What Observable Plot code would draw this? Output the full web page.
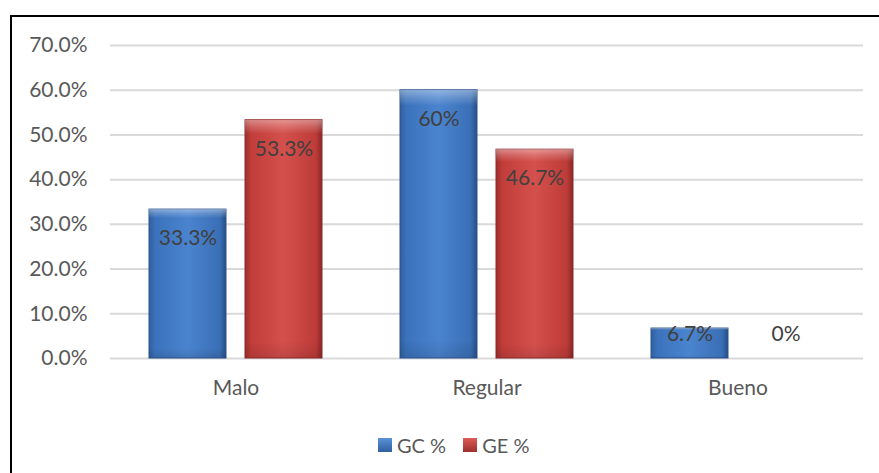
<!DOCTYPE html>
<html>
<head>
<meta charset="utf-8">
<script src="https://cdn.jsdelivr.net/npm/d3@7"></script>
<script src="https://cdn.jsdelivr.net/npm/@observablehq/plot@0.6"></script>
<style>
  html, body { margin: 0; padding: 0; background: #fff; overflow: hidden; width: 879px; height: 473px; }
  body { font-family: Lato, "Open Sans", sans-serif; }
  #frame { position: absolute; left: 10px; top: 15px; width: 900px; height: 500px; border: 2px solid #000; box-sizing: border-box; }
  #chart { position: absolute; left: 0; top: 0; }
  #legend { position: absolute; left: 378px; top: 433px; display: flex; align-items: center; font-size: 20px; color: #595959; }
  #legend .item { display: flex; align-items: center; margin-right: 17px; }
  #legend .sw { width: 14px; height: 14px; margin-right: 5px; }
</style>
</head>
<body>
<div id="frame"></div>
<div id="chart"></div>
<div id="legend"></div>
<script>
// Ratings per group, in percent
const categories = ["Malo", "Regular", "Bueno"];
const series = ["GC %", "GE %"];
const gcValues = [33.3, 60, 6.7];
const geValues = [53.3, 46.7, 0];
const yTicks = [0, 10, 20, 30, 40, 50, 60, 70];

const rows = [];
categories.forEach((c, i) => {
  rows.push({cat: c, s: series[0], v: gcValues[i]});
  rows.push({cat: c, s: series[1], v: geValues[i]});
});

const fmt = v => `${v}%`;
const label = {fontSize: 21, fill: "#404040", textAnchor: "middle"};

const chart = Plot.plot({
  width: 879,
  height: 408,
  marginLeft: 110,
  marginRight: 16,
  marginTop: 45,
  marginBottom: 50,
  style: {fontFamily: "Lato, 'Open Sans', sans-serif", fontSize: "21px", color: "#595959", background: "transparent"},
  fx: {domain: categories, paddingInner: 0, paddingOuter: 0, label: null, tickSize: 0, tickPadding: 22},
  x: {domain: series, paddingInner: 0.196, paddingOuter: 0.392, axis: null},
  y: {domain: [0, 70], ticks: yTicks, tickFormat: d => d.toFixed(1) + "%", label: null, tickSize: 0, tickPadding: 23},
  marks: [
    Plot.gridY(yTicks, {stroke: "#d9d9d9", strokeOpacity: 1, strokeWidth: 2}),
    Plot.barY(rows.filter(d => d.s === series[0]), {fx: "cat", x: "s", y: "v", fill: "url(#gcGrad)", stroke: "#2a5590", strokeWidth: 1}),
    Plot.barY(rows.filter(d => d.s === series[1]), {fx: "cat", x: "s", y: "v", fill: "url(#geGrad)", stroke: "#8e2a28", strokeWidth: 1}),
    Plot.barY(rows, {fx: "cat", x: "s", y: "v", fill: "url(#shade)"}),
    // labels sit inside the bar top; short bars get their label above the baseline
    Plot.text(rows.filter(d => d.v >= 10), {fx: "cat", x: "s", y: "v", text: d => fmt(d.v), dy: 29, ...label}),
    Plot.text(rows.filter(d => d.v < 10), {fx: "cat", x: "s", y: 0, text: d => fmt(d.v), dy: -24, ...label})
  ]
});

// gradients giving the bars their rounded, bevelled look
const defs = d3.select(chart).insert("defs", ":first-child");
function hGrad(id, stops) {
  const g = defs.append("linearGradient").attr("id", id).attr("x1", 0).attr("x2", 1).attr("y1", 0).attr("y2", 0);
  stops.forEach(([o, c]) => g.append("stop").attr("offset", o).attr("stop-color", c));
}
hGrad("gcGrad", [[0, "#2f5f9f"], [0.08, "#3b72bb"], [0.5, "#4a84cf"], [0.92, "#3a6fb5"], [1, "#264e86"]]);
hGrad("geGrad", [[0, "#9c2f2d"], [0.08, "#c13d3a"], [0.5, "#d4504c"], [0.92, "#bd3b38"], [1, "#882826"]]);
const sh = defs.append("linearGradient").attr("id", "shade").attr("x1", 0).attr("x2", 0).attr("y1", 0).attr("y2", 1);
[[0, "#fff", 0.4], [0.03, "#fff", 0.18], [0.06, "#fff", 0], [0.93, "#000", 0], [1, "#000", 0.1]]
  .forEach(([o, c, a]) => sh.append("stop").attr("offset", o).attr("stop-color", c).attr("stop-opacity", a));

d3.selectAll(chart.querySelectorAll("[aria-label='y-axis tick label'] text, [aria-label='fx-axis tick label'] text")).attr("fill", "#595959");
document.getElementById("chart").appendChild(chart);

// legend
const legend = d3.select("#legend");
const swatch = {"GC %": "linear-gradient(#5a92d8, #2f5f9f)", "GE %": "linear-gradient(#dd5c58, #9c2f2d)"};
series.forEach(s => {
  const it = legend.append("div").attr("class", "item");
  it.append("div").attr("class", "sw").style("background", swatch[s]);
  it.append("span").text(s);
});
</script>
</body>
</html>
